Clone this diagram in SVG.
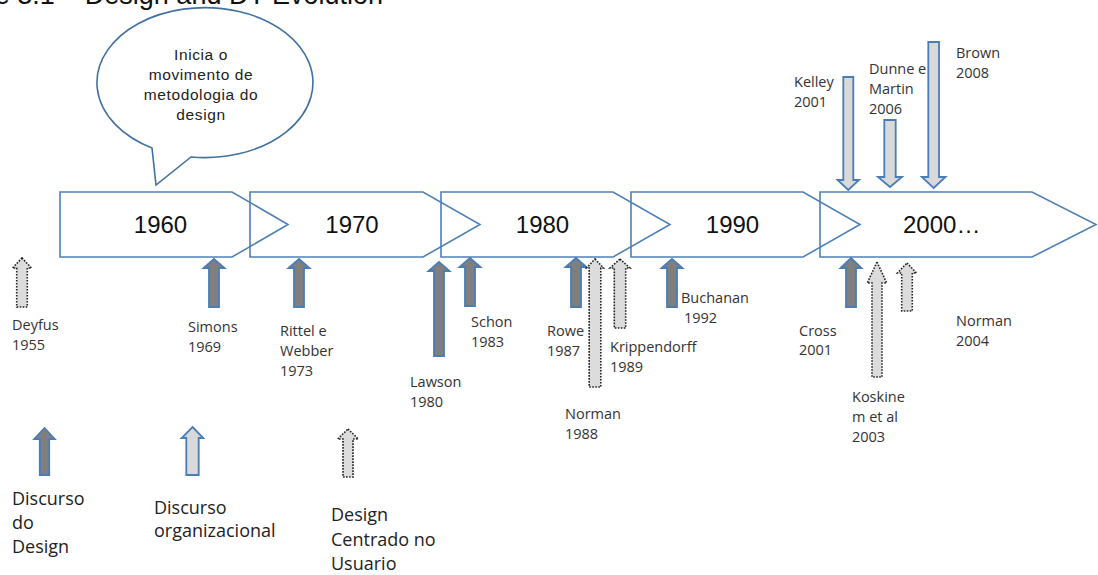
<svg xmlns="http://www.w3.org/2000/svg" width="1098" height="575" viewBox="0 0 1098 575">
  <style>
    .chev { fill: none; stroke: #4f80b6; stroke-width: 1.6; stroke-linejoin: miter; }
    .year { font-family: "Liberation Sans", Arial, sans-serif; font-size: 24px; fill: #111; }
    .bubble { fill: #fff; stroke: #41719c; stroke-width: 1.6; }
    .btxt { font-family: "Liberation Sans", Arial, sans-serif; font-size: 15.5px; fill: #222; text-anchor: middle; letter-spacing: 0.6px; }
    .lbl { font-family: "Open Sans", "Noto Sans", sans-serif; font-size: 14.5px; fill: #333; }
    .leg { font-family: "Open Sans", "Noto Sans", sans-serif; font-size: 18px; fill: #222; }
    .title { font-family: "Liberation Sans", Arial, sans-serif; font-size: 27px; fill: #111; text-anchor: end; }
    .dark { fill: #7f7f7f; stroke: #4a7db6; stroke-width: 1.8; stroke-linejoin: miter; }
    .light { fill: #d9d9d9; stroke: #4a7db6; stroke-width: 1.8; stroke-linejoin: miter; }
    .dot { fill: #dcdcdc; stroke: #222; stroke-width: 1.6; stroke-dasharray: 1.6 1.4; }
  </style>

  <!-- heading, clipped by the top edge -->
  <text class="title" x="383" y="4">Figure 3.1 – Design and DT Evolution</text>

  <!-- speech bubble -->
  <g id="bubble">
    <path class="bubble" d="M152,148 A108,75 0 1 1 191,157 L156,185 Z"/>
    <text class="btxt" x="201" y="60">Inicia o</text>
    <text class="btxt" x="201" y="80">movimento de</text>
    <text class="btxt" x="201" y="100">metodologia do</text>
    <text class="btxt" x="201" y="120">design</text>
  </g>

  <!-- decade chevrons -->
  <g id="decade-1960">
    <path class="chev" d="M60,192 H232 L288,224.5 L232,257 H60 Z"/>
    <text class="year" x="160.5" y="233" text-anchor="middle">1960</text>
  </g>
  <g id="decade-1970">
    <path class="chev" d="M250,192 H423 L480,224.5 L423,257 H250 Z"/>
    <text class="year" x="352" y="233" text-anchor="middle">1970</text>
  </g>
  <g id="decade-1980">
    <path class="chev" d="M441,192 H613 L670,224.5 L613,257 H441 Z"/>
    <text class="year" x="542.5" y="233" text-anchor="middle">1980</text>
  </g>
  <g id="decade-1990">
    <path class="chev" d="M631,192 H803 L860,224.5 L803,257 H631 Z"/>
    <text class="year" x="732.5" y="233" text-anchor="middle">1990</text>
  </g>
  <g id="decade-2000">
    <path class="chev" d="M820,192 H1032 L1096,224.5 L1032,257 H820 Z"/>
    <text class="year" x="903" y="233">2000…</text>
  </g>

  <!-- block arrows pointing at the timeline -->
  <g id="connectors">
    <path class="dot" d="M22,258 L31.5,268 L27.3,268 L27.3,307 L16.7,307 L16.7,268 L12.5,268 Z"/>
    <path class="dark" d="M214,259 L224.5,268 L219,268 L219,307 L209,307 L209,268 L203.5,268 Z"/>
    <path class="dark" d="M299,259 L309.5,268 L304,268 L304,307 L294,307 L294,268 L288.5,268 Z"/>
    <path class="dark" d="M439,262 L449.5,271 L444,271 L444,356 L434,356 L434,271 L428.5,271 Z"/>
    <path class="dark" d="M470,258 L480.5,267 L475,267 L475,306 L465,306 L465,267 L459.5,267 Z"/>
    <path class="dark" d="M576,258 L586.5,267 L581,267 L581,307 L571,307 L571,267 L565.5,267 Z"/>
    <path class="dot" d="M595,259 L603.5,268 L600.8,268 L600.8,387 L589.2,387 L589.2,268 L586.5,268 Z"/>
    <path class="dot" d="M620,259 L630,268 L625.7,268 L625.7,328 L614.3,328 L614.3,268 L610,268 Z"/>
    <path class="dark" d="M672,259 L682.5,268 L677,268 L677,307 L667,307 L667,268 L661.5,268 Z"/>
    <path class="dark" d="M851,258 L861.5,268 L856,268 L856,307 L846,307 L846,268 L840.5,268 Z"/>
    <path class="dot" d="M877,262 L886.7,283 L882,283 L882,377 L872,377 L872,283 L867.3,283 Z"/>
    <path class="dot" d="M907,263 L916.5,273 L912.3,273 L912.3,311 L901.7,311 L901.7,273 L897.5,273 Z"/>
    <path class="light" d="M843.3,77 H853.3 V180 H859 L848.3,190 L837.5,180 H843.3 Z"/>
    <path class="light" d="M884.3,120 H895.7 V177 H902 L890,187 L878,177 H884.3 Z"/>
    <path class="light" d="M928.3,42 H939 V177 H945.5 L933.7,188 L921.8,177 H928.3 Z"/>
  </g>

  <!-- author / year labels -->
  <g id="lbl-deyfus"><text class="lbl" x="12" y="330">Deyfus</text><text class="lbl" x="12" y="350">1955</text></g>
  <g id="lbl-simons"><text class="lbl" x="188" y="332">Simons</text><text class="lbl" x="188" y="352">1969</text></g>
  <g id="lbl-rittel"><text class="lbl" x="280" y="336">Rittel e</text><text class="lbl" x="280" y="356">Webber</text><text class="lbl" x="280" y="376">1973</text></g>
  <g id="lbl-lawson"><text class="lbl" x="410" y="387">Lawson</text><text class="lbl" x="410" y="407">1980</text></g>
  <g id="lbl-schon"><text class="lbl" x="471" y="327">Schon</text><text class="lbl" x="471" y="347">1983</text></g>
  <g id="lbl-rowe"><text class="lbl" x="547" y="336">Rowe</text><text class="lbl" x="547" y="356">1987</text></g>
  <g id="lbl-krippendorff"><text class="lbl" x="610" y="352">Krippendorff</text><text class="lbl" x="610" y="372">1989</text></g>
  <g id="lbl-norman1988"><text class="lbl" x="565" y="419">Norman</text><text class="lbl" x="565" y="439">1988</text></g>
  <g id="lbl-buchanan"><text class="lbl" x="681" y="303">Buchanan</text><text class="lbl" x="684" y="323">1992</text></g>
  <g id="lbl-kelley"><text class="lbl" x="794" y="87">Kelley</text><text class="lbl" x="794" y="107">2001</text></g>
  <g id="lbl-dunne"><text class="lbl" x="869" y="74">Dunne e</text><text class="lbl" x="869" y="94">Martin</text><text class="lbl" x="869" y="114">2006</text></g>
  <g id="lbl-brown"><text class="lbl" x="956" y="58">Brown</text><text class="lbl" x="956" y="78">2008</text></g>
  <g id="lbl-cross"><text class="lbl" x="799" y="336">Cross</text><text class="lbl" x="799" y="355">2001</text></g>
  <g id="lbl-norman2004"><text class="lbl" x="956" y="326">Norman</text><text class="lbl" x="956" y="346">2004</text></g>
  <g id="lbl-koskinen"><text class="lbl" x="852" y="402">Koskine</text><text class="lbl" x="852" y="422">m et al</text><text class="lbl" x="852" y="442">2003</text></g>

  <!-- legend -->
  <g id="legend-design">
    <path class="dark" d="M44.5,428 L54.8,439 L49.2,439 L49.2,475 L39.8,475 L39.8,439 L34.2,439 Z"/>
    <text class="leg" x="12" y="505">Discurso</text>
    <text class="leg" x="12" y="529">do</text>
    <text class="leg" x="12" y="553">Design</text>
  </g>
  <g id="legend-organizacional">
    <path class="light" d="M192.5,427 L203.3,438 L198.7,438 L198.7,475 L186.3,475 L186.3,438 L181.7,438 Z"/>
    <text class="leg" x="154" y="514">Discurso</text>
    <text class="leg" x="154" y="537">organizacional</text>
  </g>
  <g id="legend-usuario">
    <path class="dot" d="M348,429 L358.3,439 L353,439 L353,477 L343,477 L343,439 L337.7,439 Z"/>
    <text class="leg" x="331" y="521">Design</text>
    <text class="leg" x="331" y="546">Centrado no</text>
    <text class="leg" x="331" y="570">Usuario</text>
  </g>
</svg>
